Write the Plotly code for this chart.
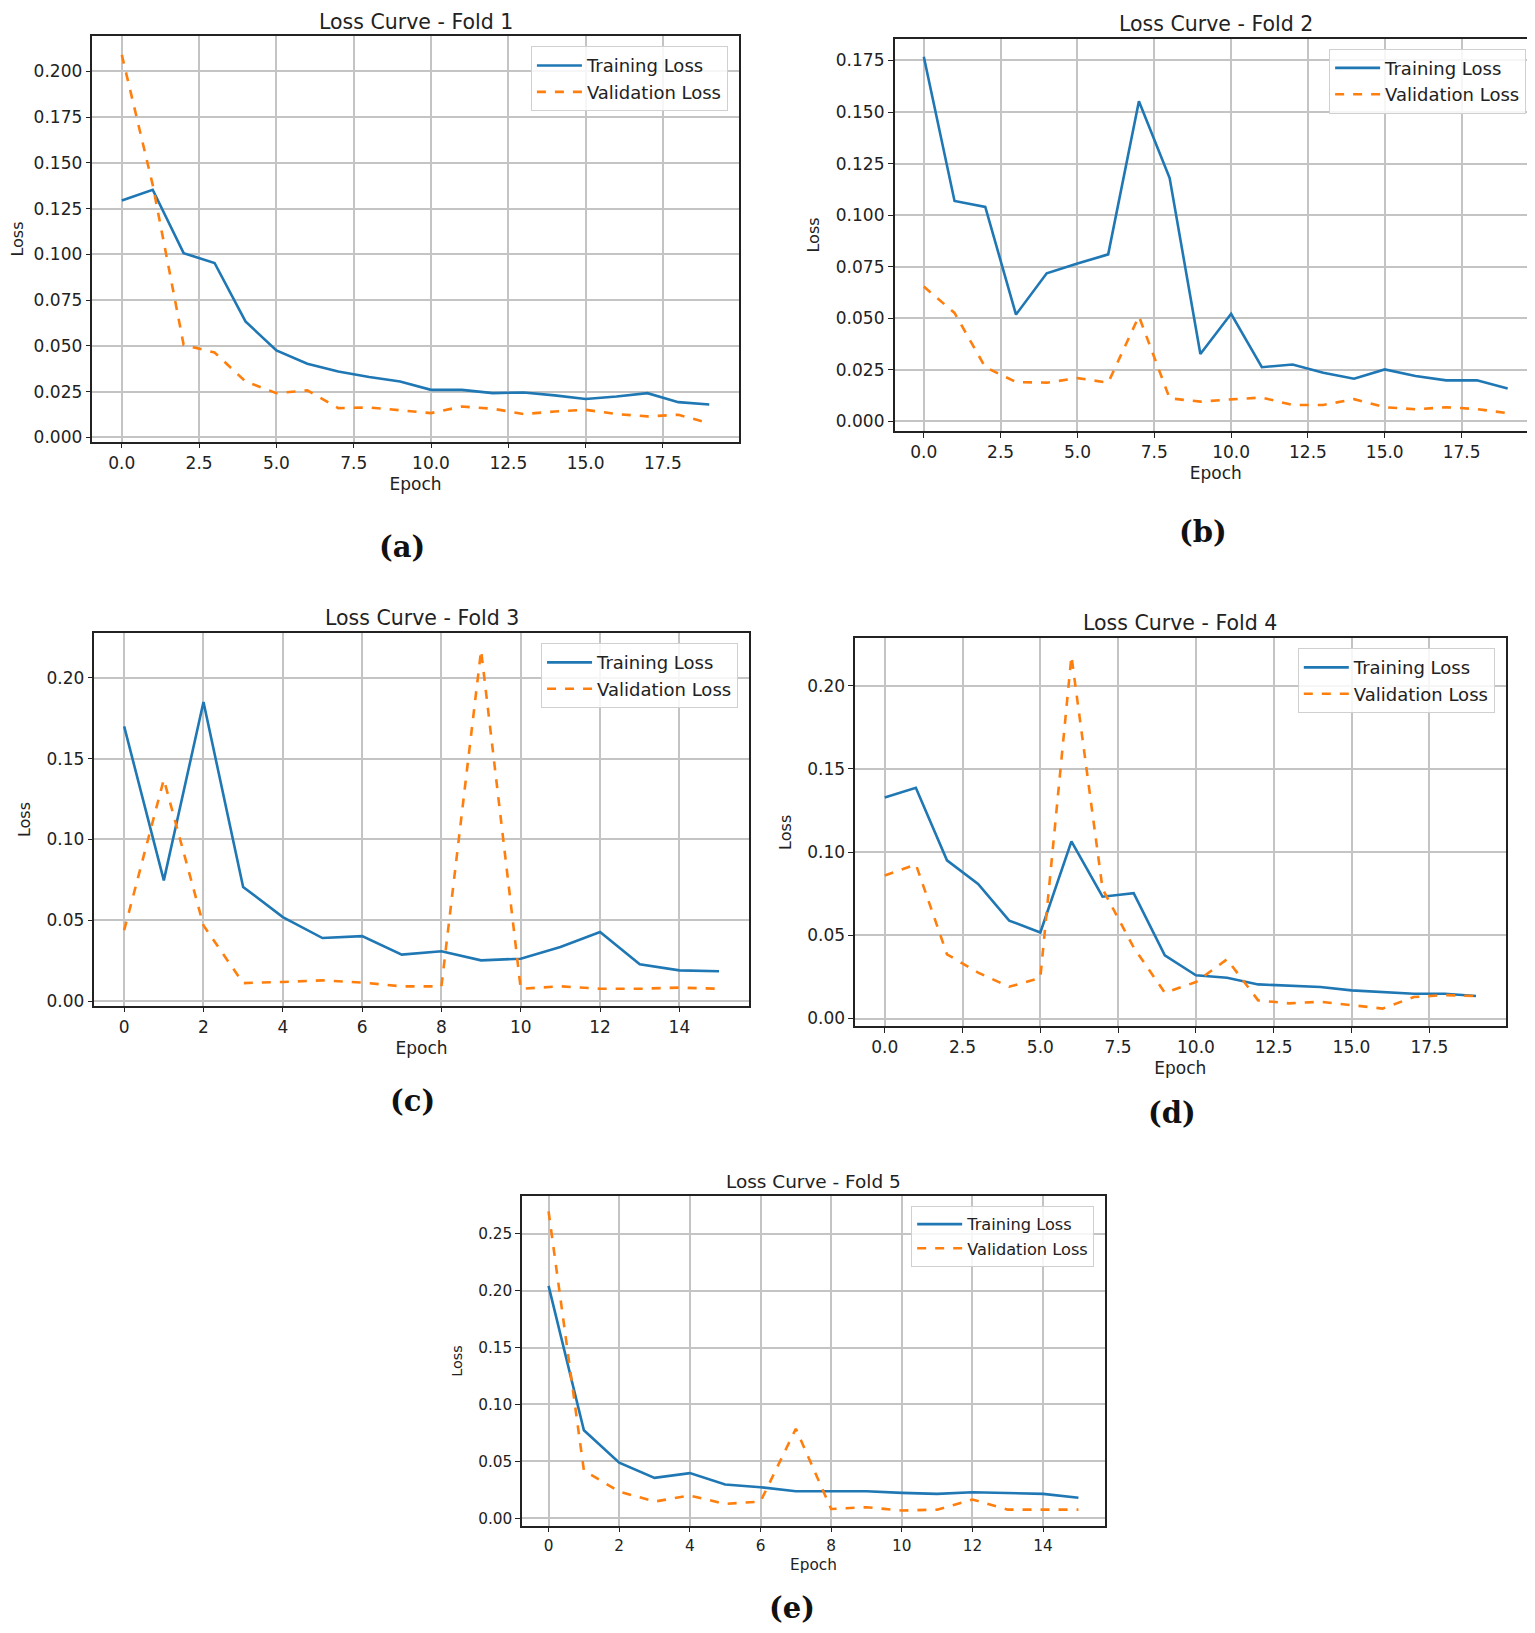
import plotly.graph_objects as go

# per-fold loss values
train_f1 = [0.1295, 0.1353, 0.1007, 0.0953, 0.0634, 0.0475, 0.0403, 0.0360, 0.0330, 0.0306,
            0.0260, 0.0260, 0.0242, 0.0246, 0.0230, 0.0210, 0.0224, 0.0242, 0.0193, 0.0180]
val_f1 = [0.2090, 0.1380, 0.0506, 0.0464, 0.0306, 0.0242, 0.0257, 0.0160, 0.0164, 0.0148,
          0.0133, 0.0169, 0.0157, 0.0128, 0.0142, 0.0151, 0.0128, 0.0115, 0.0124, 0.0078]

train_f2 = [0.1768, 0.1069, 0.1040, 0.0518, 0.0718, 0.0766, 0.0810, 0.1552, 0.1180, 0.0327,
            0.0522, 0.0263, 0.0276, 0.0236, 0.0207, 0.0252, 0.0220, 0.0199, 0.0200, 0.0160]
val_f2 = [0.0654, 0.0526, 0.0263, 0.0191, 0.0188, 0.0210, 0.0188, 0.0510, 0.0112, 0.0096,
          0.0107, 0.0116, 0.0080, 0.0080, 0.0108, 0.0069, 0.0059, 0.0069, 0.0060, 0.0040]

train_f3 = [0.1700, 0.0747, 0.1851, 0.0706, 0.0520, 0.0390, 0.0402, 0.0287, 0.0308, 0.0252,
            0.0262, 0.0334, 0.0427, 0.0227, 0.0190, 0.0184]
val_f3 = [0.0438, 0.1372, 0.0468, 0.0111, 0.0118, 0.0128, 0.0114, 0.0091, 0.0091, 0.2171,
          0.0076, 0.0091, 0.0076, 0.0076, 0.0083, 0.0076]

train_f4 = [0.1328, 0.1386, 0.0950, 0.0809, 0.0588, 0.0517, 0.1064, 0.0732, 0.0753, 0.0380,
            0.0260, 0.0245, 0.0205, 0.0195, 0.0189, 0.0169, 0.0159, 0.0149, 0.0149, 0.0135]
val_f4 = [0.0859, 0.0926, 0.0386, 0.0276, 0.0191, 0.0245, 0.2177, 0.0779, 0.0427, 0.0155,
          0.0219, 0.0356, 0.0109, 0.0091, 0.0101, 0.0080, 0.0060, 0.0129, 0.0141, 0.0135]

train_f5 = [0.2042, 0.0773, 0.0488, 0.0355, 0.0397, 0.0297, 0.0273, 0.0238, 0.0238, 0.0238,
            0.0223, 0.0214, 0.0229, 0.0223, 0.0214, 0.0180]
val_f5 = [0.2697, 0.0420, 0.0235, 0.0147, 0.0200, 0.0126, 0.0147, 0.0787, 0.0082, 0.0097,
          0.0068, 0.0076, 0.0165, 0.0076, 0.0076, 0.0076]

panel_labels = ["(a)", "(b)", "(c)", "(d)", "(e)"]

folds = [
    # train, val, x domain, y domain, ytick step, ytick fmt, xtick step, label pos, font scale
    dict(tr=train_f1, va=val_f1, xd=[0.0550, 0.4760], yd=[0.7335, 0.9825], dy=0.025, fy=".3f", dx=2.5, fx=".1f", lab=(0.2565, 0.669), fs=1.0),
    dict(tr=train_f2, va=val_f2, xd=[0.5776, 0.9960], yd=[0.7400, 0.9810], dy=0.025, fy=".3f", dx=2.5, fx=".1f", lab=(0.7785, 0.678), fs=1.0),
    dict(tr=train_f3, va=val_f3, xd=[0.0563, 0.4826], yd=[0.3868, 0.6156], dy=0.05, fy=".2f", dx=2, fx="d", lab=(0.2635, 0.328), fs=1.0),
    dict(tr=train_f4, va=val_f4, xd=[0.5519, 0.9756], yd=[0.3742, 0.6125], dy=0.05, fy=".2f", dx=2.5, fx=".1f", lab=(0.7585, 0.321), fs=1.0),
    dict(tr=train_f5, va=val_f5, xd=[0.3349, 0.7146], yd=[0.0673, 0.2696], dy=0.05, fy=".2f", dx=2, fx="d", lab=(0.5105, 0.0164), fs=0.9),
]

fig = go.Figure()
annotations = []

for i, f in enumerate(folds):
    n = i + 1
    sfx = "" if n == 1 else str(n)
    leg = "legend" if n == 1 else "legend" + str(n)
    epochs = list(range(len(f["tr"])))
    fs = f["fs"]

    fig.add_trace(go.Scatter(x=epochs, y=f["tr"], mode="lines", name="Training Loss",
                             line=dict(color="#1f77b4", width=2.6),
                             xaxis="x" + sfx, yaxis="y" + sfx, legend=leg))
    fig.add_trace(go.Scatter(x=epochs, y=f["va"], mode="lines", name="Validation Loss",
                             line=dict(color="#ff7f0e", width=2.6, dash="dash"),
                             xaxis="x" + sfx, yaxis="y" + sfx, legend=leg))

    # matplotlib style 5% margins
    lo = min(f["tr"] + f["va"])
    hi = max(f["tr"] + f["va"])
    pad = (hi - lo) * 0.05
    xpad = (len(epochs) - 1) * 0.05

    axis_common = dict(showline=True, linecolor="#222", linewidth=1.5, mirror=True,
                       showgrid=True, gridcolor="#c4c4c4", gridwidth=1.5, zeroline=False,
                       ticks="outside", ticklen=5, tickcolor="#222",
                       tickfont=dict(family="DejaVu Sans", size=17 * fs, color="#222"))
    fig.update_layout(**{
        "xaxis" + sfx: dict(axis_common, domain=f["xd"], anchor="y" + sfx,
                            range=[-xpad, len(epochs) - 1 + xpad], tick0=0, dtick=f["dx"],
                            tickformat=f["fx"],
                            title=dict(text="Epoch", standoff=6,
                                       font=dict(family="DejaVu Sans", size=17 * fs, color="#222"))),
        "yaxis" + sfx: dict(axis_common, domain=f["yd"], anchor="x" + sfx,
                            range=[lo - pad, hi + pad], tick0=0, dtick=f["dy"],
                            tickformat=f["fy"],
                            title=dict(text="Loss", standoff=12,
                                       font=dict(family="DejaVu Sans", size=16 * fs, color="#222"))),
        leg: dict(x=f["xd"][1] - 0.007, y=f["yd"][1] - 0.006, xanchor="right", yanchor="top",
                  bgcolor="rgba(255,255,255,0.85)", bordercolor="#d0d0d0", borderwidth=1,
                  font=dict(family="DejaVu Sans", size=18 * fs, color="#222"),
                  itemwidth=45, tracegroupgap=0),
    })

    annotations.append(dict(text="Loss Curve - Fold %d" % n, xref="paper", yref="paper",
                            x=sum(f["xd"]) / 2, y=f["yd"][1] + 0.0092, xanchor="center", yanchor="middle",
                            showarrow=False,
                            font=dict(family="DejaVu Sans", size=20.5 * fs, color="#222")))
    annotations.append(dict(text="<b>%s</b>" % panel_labels[i], xref="paper", yref="paper",
                            x=f["lab"][0], y=f["lab"][1], xanchor="center", yanchor="middle",
                            showarrow=False,
                            font=dict(family="DejaVu Serif", size=29, color="#111")))

fig.update_layout(width=1535, height=1633, margin=dict(l=0, r=0, t=0, b=0),
                  paper_bgcolor="white", plot_bgcolor="white", annotations=annotations)

fig.write_html("out.html")
